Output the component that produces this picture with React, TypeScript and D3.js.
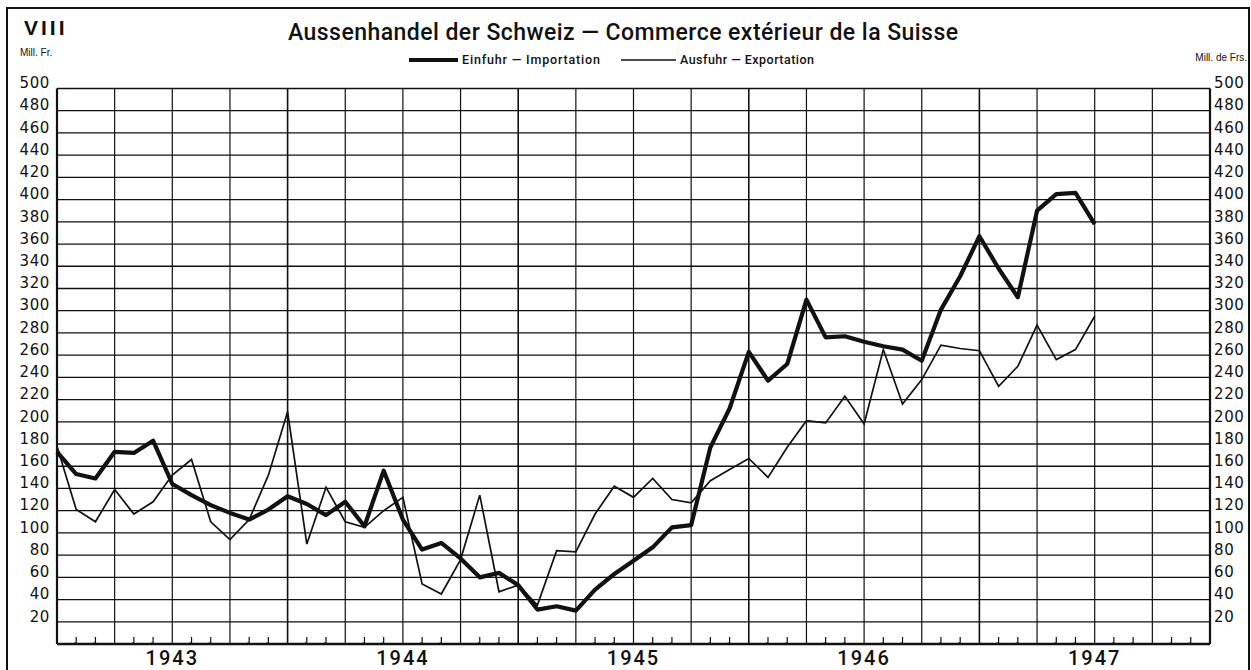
import React, { useEffect, useRef } from 'react';
import * as d3 from 'd3';

// years on the x axis, each one is 12 monthly steps
const years = ['1943', '1944', '1945', '1946', '1947', ''];

// monthly values Jan 1943 .. Jul 1947, Mill. Fr.
const einfuhr = [
  173, 153, 149, 173, 172, 183, 144, 134, 125, 118, 112, 121,
  133, 126, 116, 128, 106, 156, 112, 85, 91, 77, 60, 64,
  53, 31, 34, 30, 49, 63, 75, 87, 105, 107, 177, 212,
  263, 237, 252, 310, 276, 277, 272, 268, 265, 255, 301, 331,
  367, 338, 312, 390, 405, 406, 378,
];
const ausfuhr = [
  178, 121, 110, 139, 117, 128, 152, 166, 110, 94, 112, 152,
  209, 90, 141, 110, 105, 120, 132, 54, 45, 76, 134, 47,
  53, 35, 84, 83, 117, 142, 132, 149, 130, 127, 147, 157,
  167, 150, 177, 201, 199, 223, 198, 265, 216, 238, 269, 266,
  264, 232, 250, 287, 256, 265, 295,
];

const yTicks = [20, 40, 60, 80, 100, 120, 140, 160, 180, 200, 220, 240, 260, 280, 300, 320, 340, 360, 380, 400, 420, 440, 460, 480, 500];

const title = 'Aussenhandel der Schweiz — Commerce extérieur de la Suisse';
const legendImport = 'Einfuhr — Importation';
const legendExport = 'Ausfuhr — Exportation';

export default function App() {
  const svgRef = useRef<SVGSVGElement>(null);

  useEffect(() => {
    const W = 1251;
    const H = 670;
    const left = 57, right = 1210, top = 88.5, bottom = 644;
    const ink = '#111';
    const svg = d3.select(svgRef.current).attr('width', W).attr('height', H);
    svg.selectAll('*').remove();

    const nMonths = (years.length - 1) * 12;
    const x = d3.scaleLinear().domain([0, nMonths]).range([left, right]);
    const y = d3.scaleLinear().domain([0, 500]).range([bottom, top]);

    svg.append('rect').attr('width', W).attr('height', H).attr('fill', '#fff');

    // outer frame
    svg.append('rect')
      .attr('x', 7).attr('y', 8).attr('width', 1242).attr('height', 700)
      .attr('fill', 'none').attr('stroke', ink).attr('stroke-width', 2);

    // horizontal grid
    svg.append('g')
      .selectAll('line')
      .data(yTicks.filter(v => v < 500))
      .join('line')
      .attr('x1', left).attr('x2', right)
      .attr('y1', d => y(d)).attr('y2', d => y(d))
      .attr('stroke', ink).attr('stroke-width', 1.3);

    // vertical grid, one line per quarter
    svg.append('g')
      .selectAll('line')
      .data(d3.range(3, nMonths, 3))
      .join('line')
      .attr('x1', d => x(d)).attr('x2', d => x(d))
      .attr('y1', top).attr('y2', bottom)
      .attr('stroke', ink).attr('stroke-width', d => (d % 12 === 0 ? 1.6 : 1.2));

    // month ticks on the base line
    svg.append('g')
      .selectAll('path')
      .data(d3.range(1, nMonths).filter(m => m % 3 !== 0))
      .join('path')
      .attr('d', d => `M${x(d) - 2},${bottom - 1}L${x(d)},${bottom - 1}L${x(d)},${bottom - 7}`)
      .attr('fill', 'none')
      .attr('stroke', ink).attr('stroke-width', 1.2);

    // plot frame
    svg.append('line').attr('x1', left).attr('x2', right).attr('y1', top).attr('y2', top)
      .attr('stroke', ink).attr('stroke-width', 1.6);
    svg.append('line').attr('x1', left).attr('x2', right).attr('y1', bottom).attr('y2', bottom)
      .attr('stroke', ink).attr('stroke-width', 2.6);
    svg.append('line').attr('x1', left).attr('x2', left).attr('y1', top).attr('y2', bottom)
      .attr('stroke', ink).attr('stroke-width', 2.2);
    svg.append('line').attr('x1', right).attr('x2', right).attr('y1', top).attr('y2', bottom)
      .attr('stroke', ink).attr('stroke-width', 2.2);

    // y axes, both sides
    const labelFont = '"DejaVu Sans", sans-serif';
    const yLeft = d3.axisLeft(y).tickValues(yTicks).tickSize(0).tickPadding(7);
    const gl = svg.append('g').attr('transform', `translate(${left},0)`).call(yLeft);
    const yRight = d3.axisRight(y).tickValues(yTicks).tickSize(0).tickPadding(4);
    const gr = svg.append('g').attr('transform', `translate(${right},0)`).call(yRight);
    [gl, gr].forEach(g => {
      g.select('.domain').remove();
      g.selectAll('text')
        .attr('dy', '-0.05em')
        .attr('fill', ink)
        .style('font-family', labelFont)
        .style('font-size', '15px')
        .style('letter-spacing', '0.6px');
    });

    // year labels, centred on each year
    svg.append('g')
      .selectAll('text')
      .data(years.filter(d => d !== ''))
      .join('text')
      .attr('x', (d, i) => x(i * 12 + 6))
      .attr('y', 665)
      .attr('text-anchor', 'middle')
      .attr('fill', ink)
      .style('font-family', 'Roboto, sans-serif')
      .style('font-weight', 500)
      .style('font-size', '20px')
      .style('letter-spacing', '2px')
      .text(d => d);

    // the two series
    const line = d3.line<number>()
      .x((d, i) => x(i))
      .y(d => y(d));
    svg.append('path')
      .datum(ausfuhr)
      .attr('d', line)
      .attr('fill', 'none')
      .attr('stroke', ink)
      .attr('stroke-width', 1.7)
      .attr('stroke-linejoin', 'miter');
    svg.append('path')
      .datum(einfuhr)
      .attr('d', line)
      .attr('fill', 'none')
      .attr('stroke', ink)
      .attr('stroke-width', 4.2)
      .attr('stroke-linejoin', 'round');

    // headings
    svg.append('text')
      .attr('x', 24).attr('y', 35)
      .attr('fill', ink)
      .style('font-family', '"Liberation Sans", sans-serif')
      .style('font-weight', 700)
      .style('font-size', '21px')
      .style('letter-spacing', '3px')
      .text('VIII');
    svg.append('text')
      .attr('x', 288).attr('y', 40)
      .attr('textLength', 670)
      .attr('lengthAdjust', 'spacing')
      .attr('fill', ink)
      .style('font-family', 'Roboto, sans-serif')
      .style('font-weight', 500)
      .style('font-size', '23px')
      .text(title);
    svg.append('text')
      .attr('x', 20).attr('y', 56)
      .attr('fill', ink)
      .style('font-family', '"Liberation Sans Narrow", "Liberation Sans", sans-serif')
      .style('font-size', '10px')
      .text('Mill. Fr.');
    svg.append('text')
      .attr('x', 1247).attr('y', 61)
      .attr('text-anchor', 'end')
      .attr('fill', ink)
      .style('font-family', '"Liberation Sans Narrow", "Liberation Sans", sans-serif')
      .style('font-size', '10px')
      .text('Mill. de Frs.');

    // legend
    const legend = svg.append('g');
    legend.append('line').attr('x1', 409).attr('x2', 458).attr('y1', 60).attr('y2', 60)
      .attr('stroke', ink).attr('stroke-width', 4.2);
    legend.append('text').attr('x', 462).attr('y', 64)
      .attr('textLength', 138).attr('lengthAdjust', 'spacing')
      .attr('fill', ink)
      .style('font-family', 'Roboto, sans-serif').style('font-weight', 500).style('font-size', '12.5px')
      .text(legendImport);
    legend.append('line').attr('x1', 621).attr('x2', 676).attr('y1', 60).attr('y2', 60)
      .attr('stroke', ink).attr('stroke-width', 1.7);
    legend.append('text').attr('x', 680).attr('y', 64)
      .attr('textLength', 134).attr('lengthAdjust', 'spacing')
      .attr('fill', ink)
      .style('font-family', 'Roboto, sans-serif').style('font-weight', 500).style('font-size', '12.5px')
      .text(legendExport);
  }, []);

  return (
    <svg ref={svgRef} style={{ position: 'absolute', left: 0, top: 0, display: 'block' }} />
  );
}
